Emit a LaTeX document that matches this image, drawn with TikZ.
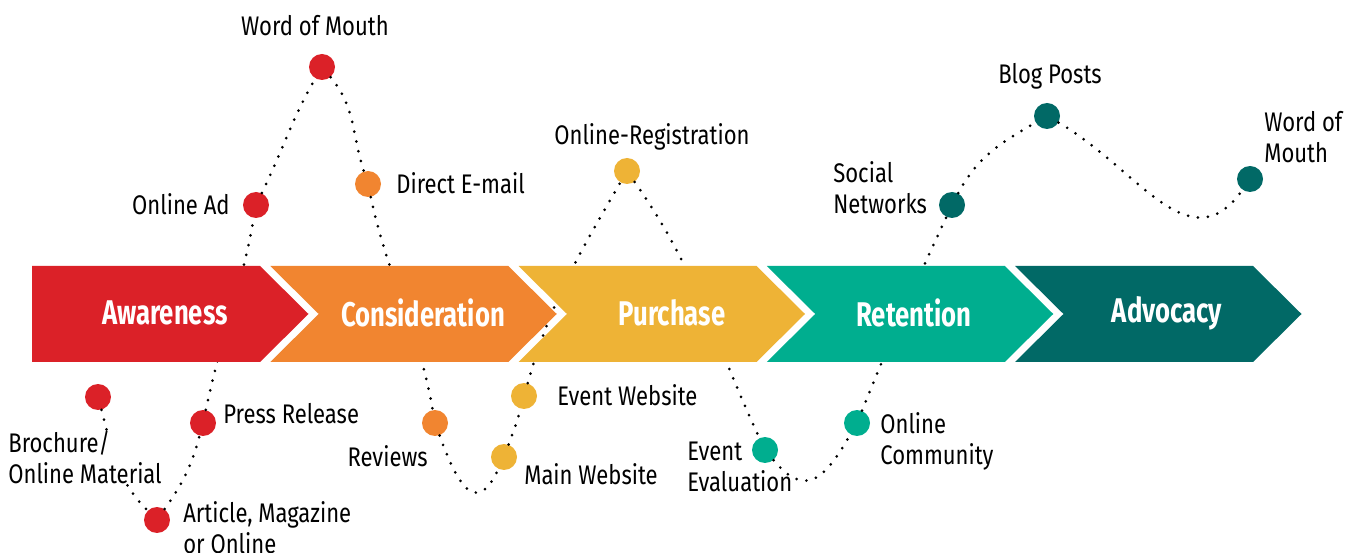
\documentclass[tikz,border=0pt]{standalone}
\usepackage{fontspec}
\setmainfont{Fira Sans}[FakeStretch=0.82]
\newfontfamily\stagefont{Fira Sans}[FakeStretch=0.75]
\usepackage{tikz}
\usetikzlibrary{calc}

\definecolor{awaRed}{RGB}{219,33,40}
\definecolor{conOrange}{RGB}{241,133,48}
\definecolor{purYellow}{RGB}{238,179,54}
\definecolor{retTeal}{RGB}{0,174,143}
\definecolor{advTeal}{RGB}{1,105,102}

\tikzset{
    touch/.style={fill=#1, circle, minimum size=0.52cm, inner sep=0},
    lbl/.style={inner sep=0, align=left, font=\fontsize{15.3}{17.6}\selectfont},
    stagelbl/.style={inner sep=0, text=white, font=\stagefont\bfseries\fontsize{19.5}{21}\selectfont},
    dotline/.style={line width=1.7pt, line cap=round, dash pattern=on 0pt off 5.7pt}
}

\begin{document}
\begin{tikzpicture}[x=0.02cm, y=0.02cm]
        \useasboundingbox (0,0) rectangle (1359,-553);
        \node[touch=awaRed] (brochure) at (98,-397) {};
        \node[touch=awaRed] (article) at (157,-520) {};
        \node[touch=awaRed] (press) at (203,-423) {};
        \node[touch=awaRed] (onlinead) at (256,-205) {};
        \node[touch=awaRed] (mouthA) at (322,-67) {};
        \node[touch=conOrange] (email) at (368,-184) {};
        \node[touch=conOrange] (reviews) at (435,-423) {};
        \node[touch=purYellow] (mainweb) at (504,-457) {};
        \node[touch=purYellow] (eventweb) at (524,-396) {};
        \node[touch=purYellow] (registration) at (627,-171) {};
        \node[touch=retTeal] (evaluation) at (765,-450) {};
        \node[touch=retTeal] (community) at (857,-423) {};
        \node[touch=advTeal] (social) at (952,-205) {};
        \node[touch=advTeal] (blog) at (1047,-116) {};
        \node[touch=advTeal] (mouthB) at (1250,-179) {};
        \draw[dotline] (brochure) to[out=-75, in=135] (article)
                   to[out=55, in=-105] (press)
                   to[out=78, in=-100] (onlinead)
                   to[out=64, in=-120] (mouthA)
                   to[out=-50, in=108] (email)
                   to[out=-78, in=100] (reviews)
                   to[out=-70, in=-115, looseness=2] (mainweb)
                   to[out=70, in=-105] (eventweb)
                   to[out=74, in=-120] (registration)
                   to[out=-55, in=115] (evaluation)
                   to[out=-50, in=-120, looseness=1.6] (community)
                   to[out=68, in=-115] (social)
                   to[out=62, in=-150] (blog)
                   to[out=-30, in=-125, looseness=1.2] (mouthB);
        \foreach \i/\col/\stg/\tx in {0/awaRed/Awareness/165, 1/conOrange/Consideration/423,
                2/purYellow/Purchase/672, 3/retTeal/Retention/914, 4/advTeal/Advocacy/1167} {
            \pgfmathsetmacro{\xr}{260+248.25*\i}
            \pgfmathsetmacro{\xl}{\xr-238}
            \ifnum\i=0
                \fill[\col] (32,-266) -- (\xr,-266) -- (\xr+48.5,-314) -- (\xr,-362) -- (32,-362) -- cycle;
            \else
                \fill[\col] (\xl,-266) -- (\xr,-266) -- (\xr+48.5,-314) -- (\xr,-362) -- (\xl,-362)
                    -- (\xl+48.5,-314) -- cycle;
            \fi
            \node[stagelbl] (\stg) at (\tx,-313) {\stg};
        }
        \node[lbl] (mouthA-l) at (315,-26) {Word of Mouth};
        \node[lbl, anchor=east] (onlinead-l) at (230,-204) {Online Ad};
        \node[lbl, anchor=west] (email-l) at (396,-183) {Direct E-mail};
        \node[lbl, anchor=west, fill=white] (brochure-l) at (8,-457) {Brochure/\\Online Material};
        \node[lbl, anchor=west] (press-l) at (223,-414) {Press Release};
        \node[lbl, anchor=west] (article-l) at (183,-528) {Article, Magazine\\or Online};
        \node[lbl, anchor=east] (reviews-l) at (428,-456) {Reviews};
        \node[lbl, anchor=west] (mainweb-l) at (524,-474) {Main Website};
        \node[lbl, anchor=west] (eventweb-l) at (557,-395) {Event Website};
        \node[lbl] (registration-l) at (652,-137) {Online-Registration};
        \node[lbl, anchor=west] (evaluation-l) at (687,-467) {Event\\Evaluation};
        \node[lbl, anchor=west] (community-l) at (880,-441) {Online\\Community};
        \node[lbl, anchor=west] (social-l) at (833,-188) {Social\\Networks};
        \node[lbl] (blog-l) at (1050,-76) {Blog Posts};
        \node[lbl, anchor=west] (mouthB-l) at (1264,-137) {Word of\\Mouth};
    \end{tikzpicture}
\end{document}
